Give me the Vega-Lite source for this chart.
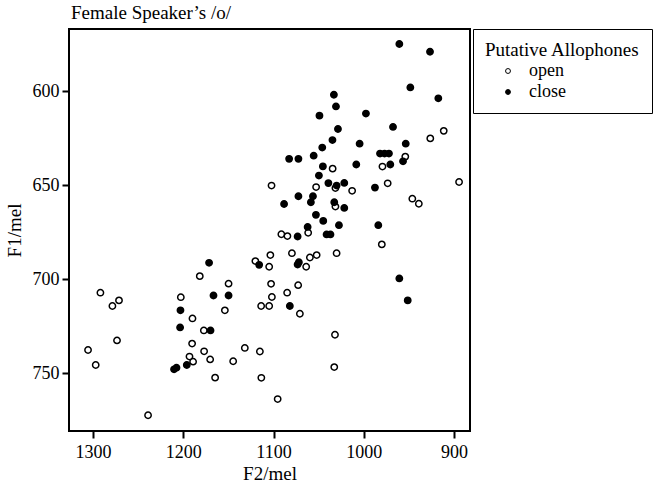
{
  "$schema": "https://vega.github.io/schema/vega-lite/v6.json",
  "width": 401,
  "height": 402,
  "autosize": {"type": "none"},
  "padding": {"left": 69, "top": 29, "right": 188, "bottom": 52},
  "background": "white",
  "title": {
    "text": "Female Speaker’s /o/",
    "anchor": "start",
    "frame": "group",
    "font": "Liberation Serif",
    "fontSize": 19,
    "fontWeight": "normal",
    "color": "black",
    "baseline": "alphabetic",
    "offset": 10,
    "dx": 2,
    "dy": 19
  },
  "config": {
    "view": {"stroke": "black", "strokeWidth": 2},
    "axis": {
      "labelFont": "Liberation Serif",
      "labelFontSize": 18,
      "labelColor": "black",
      "titleFont": "Liberation Serif",
      "titleFontSize": 19,
      "titleFontWeight": "normal",
      "titleColor": "black",
      "tickColor": "black",
      "tickWidth": 2,
      "tickSize": 7,
      "grid": false,
      "domain": false,
      "format": "d"
    },
    "legend": {
      "labelFont": "Liberation Serif",
      "labelFontSize": 18,
      "labelColor": "black",
      "titleFont": "Liberation Serif",
      "titleFontSize": 19,
      "titleFontWeight": "normal",
      "titleColor": "black"
    }
  },
  "data": {
    "values": [
      {"F2": 911.4, "F1": 621.0, "type": "open"},
      {"F2": 926.3, "F1": 625.0, "type": "open"},
      {"F2": 954.0, "F1": 634.7, "type": "open"},
      {"F2": 979.3, "F1": 640.0, "type": "open"},
      {"F2": 1034.5, "F1": 641.1, "type": "open"},
      {"F2": 894.4, "F1": 648.2, "type": "open"},
      {"F2": 973.5, "F1": 648.9, "type": "open"},
      {"F2": 1012.9, "F1": 652.9, "type": "open"},
      {"F2": 946.2, "F1": 657.1, "type": "open"},
      {"F2": 939.0, "F1": 659.8, "type": "open"},
      {"F2": 1102.2, "F1": 650.1, "type": "open"},
      {"F2": 1052.8, "F1": 650.9, "type": "open"},
      {"F2": 1031.4, "F1": 651.4, "type": "open"},
      {"F2": 1031.4, "F1": 661.3, "type": "open"},
      {"F2": 1061.6, "F1": 675.2, "type": "open"},
      {"F2": 1091.3, "F1": 676.0, "type": "open"},
      {"F2": 1084.6, "F1": 677.0, "type": "open"},
      {"F2": 980.0, "F1": 681.4, "type": "open"},
      {"F2": 1030.1, "F1": 686.1, "type": "open"},
      {"F2": 1120.1, "F1": 690.3, "type": "open"},
      {"F2": 1103.5, "F1": 687.1, "type": "open"},
      {"F2": 1104.8, "F1": 693.3, "type": "open"},
      {"F2": 1079.6, "F1": 686.1, "type": "open"},
      {"F2": 1059.7, "F1": 688.4, "type": "open"},
      {"F2": 1052.2, "F1": 687.1, "type": "open"},
      {"F2": 1063.8, "F1": 693.3, "type": "open"},
      {"F2": 1102.7, "F1": 702.4, "type": "open"},
      {"F2": 1072.7, "F1": 703.1, "type": "open"},
      {"F2": 1084.9, "F1": 707.1, "type": "open"},
      {"F2": 1101.8, "F1": 709.4, "type": "open"},
      {"F2": 1113.7, "F1": 714.2, "type": "open"},
      {"F2": 1104.8, "F1": 714.2, "type": "open"},
      {"F2": 1070.8, "F1": 718.3, "type": "open"},
      {"F2": 1031.9, "F1": 729.5, "type": "open"},
      {"F2": 1032.7, "F1": 746.7, "type": "open"},
      {"F2": 1144.7, "F1": 743.6, "type": "open"},
      {"F2": 1131.8, "F1": 736.5, "type": "open"},
      {"F2": 1115.1, "F1": 738.4, "type": "open"},
      {"F2": 1113.5, "F1": 752.4, "type": "open"},
      {"F2": 1095.4, "F1": 763.7, "type": "open"},
      {"F2": 1291.8, "F1": 707.1, "type": "open"},
      {"F2": 1278.5, "F1": 714.2, "type": "open"},
      {"F2": 1271.2, "F1": 711.2, "type": "open"},
      {"F2": 1273.4, "F1": 732.5, "type": "open"},
      {"F2": 1305.5, "F1": 737.6, "type": "open"},
      {"F2": 1297.0, "F1": 745.6, "type": "open"},
      {"F2": 1239.0, "F1": 772.3, "type": "open"},
      {"F2": 1202.7, "F1": 709.5, "type": "open"},
      {"F2": 1189.8, "F1": 720.8, "type": "open"},
      {"F2": 1181.7, "F1": 698.3, "type": "open"},
      {"F2": 1149.8, "F1": 702.3, "type": "open"},
      {"F2": 1153.9, "F1": 716.5, "type": "open"},
      {"F2": 1177.2, "F1": 727.2, "type": "open"},
      {"F2": 1190.2, "F1": 734.2, "type": "open"},
      {"F2": 1176.9, "F1": 738.3, "type": "open"},
      {"F2": 1170.2, "F1": 742.6, "type": "open"},
      {"F2": 1193.1, "F1": 741.1, "type": "open"},
      {"F2": 1189.1, "F1": 743.8, "type": "open"},
      {"F2": 1164.7, "F1": 752.3, "type": "open"},
      {"F2": 960.6, "F1": 574.8, "type": "close"},
      {"F2": 926.6, "F1": 578.9, "type": "close"},
      {"F2": 948.4, "F1": 597.9, "type": "close"},
      {"F2": 917.4, "F1": 603.7, "type": "close"},
      {"F2": 1033.1, "F1": 601.8, "type": "close"},
      {"F2": 1030.8, "F1": 608.0, "type": "close"},
      {"F2": 997.6, "F1": 611.8, "type": "close"},
      {"F2": 1049.1, "F1": 612.9, "type": "close"},
      {"F2": 967.6, "F1": 618.9, "type": "close"},
      {"F2": 1028.6, "F1": 620.0, "type": "close"},
      {"F2": 1034.7, "F1": 625.9, "type": "close"},
      {"F2": 1004.6, "F1": 627.8, "type": "close"},
      {"F2": 953.5, "F1": 627.8, "type": "close"},
      {"F2": 1046.0, "F1": 629.9, "type": "close"},
      {"F2": 1055.5, "F1": 634.2, "type": "close"},
      {"F2": 1082.7, "F1": 635.9, "type": "close"},
      {"F2": 1072.4, "F1": 635.9, "type": "close"},
      {"F2": 982.0, "F1": 633.1, "type": "close"},
      {"F2": 977.0, "F1": 633.1, "type": "close"},
      {"F2": 972.1, "F1": 633.1, "type": "close"},
      {"F2": 956.5, "F1": 637.2, "type": "close"},
      {"F2": 970.6, "F1": 638.9, "type": "close"},
      {"F2": 1008.3, "F1": 638.9, "type": "close"},
      {"F2": 1045.3, "F1": 639.9, "type": "close"},
      {"F2": 1049.7, "F1": 644.8, "type": "close"},
      {"F2": 1039.2, "F1": 648.8, "type": "close"},
      {"F2": 1030.1, "F1": 650.1, "type": "close"},
      {"F2": 1021.6, "F1": 648.7, "type": "close"},
      {"F2": 987.6, "F1": 651.2, "type": "close"},
      {"F2": 1072.4, "F1": 655.8, "type": "close"},
      {"F2": 1056.3, "F1": 655.8, "type": "close"},
      {"F2": 1058.6, "F1": 659.0, "type": "close"},
      {"F2": 1088.3, "F1": 659.9, "type": "close"},
      {"F2": 1032.7, "F1": 659.0, "type": "close"},
      {"F2": 1021.6, "F1": 662.0, "type": "close"},
      {"F2": 1053.0, "F1": 665.7, "type": "close"},
      {"F2": 1044.9, "F1": 668.9, "type": "close"},
      {"F2": 1027.5, "F1": 671.2, "type": "close"},
      {"F2": 1062.2, "F1": 672.1, "type": "close"},
      {"F2": 1041.2, "F1": 676.1, "type": "close"},
      {"F2": 1036.9, "F1": 676.1, "type": "close"},
      {"F2": 1073.3, "F1": 677.2, "type": "close"},
      {"F2": 983.9, "F1": 671.2, "type": "close"},
      {"F2": 960.6, "F1": 699.5, "type": "close"},
      {"F2": 951.3, "F1": 711.2, "type": "close"},
      {"F2": 1115.9, "F1": 692.3, "type": "close"},
      {"F2": 1071.9, "F1": 690.9, "type": "close"},
      {"F2": 1073.3, "F1": 692.1, "type": "close"},
      {"F2": 1081.9, "F1": 714.2, "type": "close"},
      {"F2": 1171.4, "F1": 691.2, "type": "close"},
      {"F2": 1166.5, "F1": 708.6, "type": "close"},
      {"F2": 1149.8, "F1": 708.6, "type": "close"},
      {"F2": 1169.8, "F1": 727.2, "type": "close"},
      {"F2": 1203.1, "F1": 716.5, "type": "close"},
      {"F2": 1203.5, "F1": 725.6, "type": "close"},
      {"F2": 1210.2, "F1": 747.9, "type": "close"},
      {"F2": 1207.5, "F1": 747.0, "type": "close"},
      {"F2": 1196.1, "F1": 745.6, "type": "close"}
    ]
  },
  "mark": {"type": "point", "filled": true, "stroke": "black", "strokeWidth": 1.5, "size": 40, "opacity": 1},
  "encoding": {
    "x": {
      "field": "F2",
      "type": "quantitative",
      "scale": {"domain": [882.3, 1326.6], "reverse": true, "nice": false, "zero": false},
      "axis": {"values": [900, 1000, 1100, 1200, 1300], "title": "F2/mel", "labelPadding": 5, "titlePadding": 3}
    },
    "y": {
      "field": "F1",
      "type": "quantitative",
      "scale": {"domain": [566.8, 780.7], "reverse": true, "nice": false, "zero": false},
      "axis": {"values": [600, 650, 700, 750], "title": "F1/mel", "labelPadding": 3, "titlePadding": 8}
    },
    "color": {
      "field": "type",
      "type": "nominal",
      "scale": {"domain": ["open", "close"], "range": ["white", "black"]},
      "legend": {
        "title": "Putative Allophones",
        "orient": "none",
        "legendX": 404,
        "legendY": 0,
        "padding": 12,
        "strokeColor": "black",
        "symbolType": "circle",
        "symbolSize": 24,
        "symbolStrokeColor": "black",
        "symbolStrokeWidth": 1,
        "symbolOffset": 14,
        "labelOffset": 12,
        "rowPadding": 3,
        "titlePadding": 2,
        "encode": {"legend": {"update": {"strokeWidth": {"value": 2}}}}
      }
    }
  }
}
